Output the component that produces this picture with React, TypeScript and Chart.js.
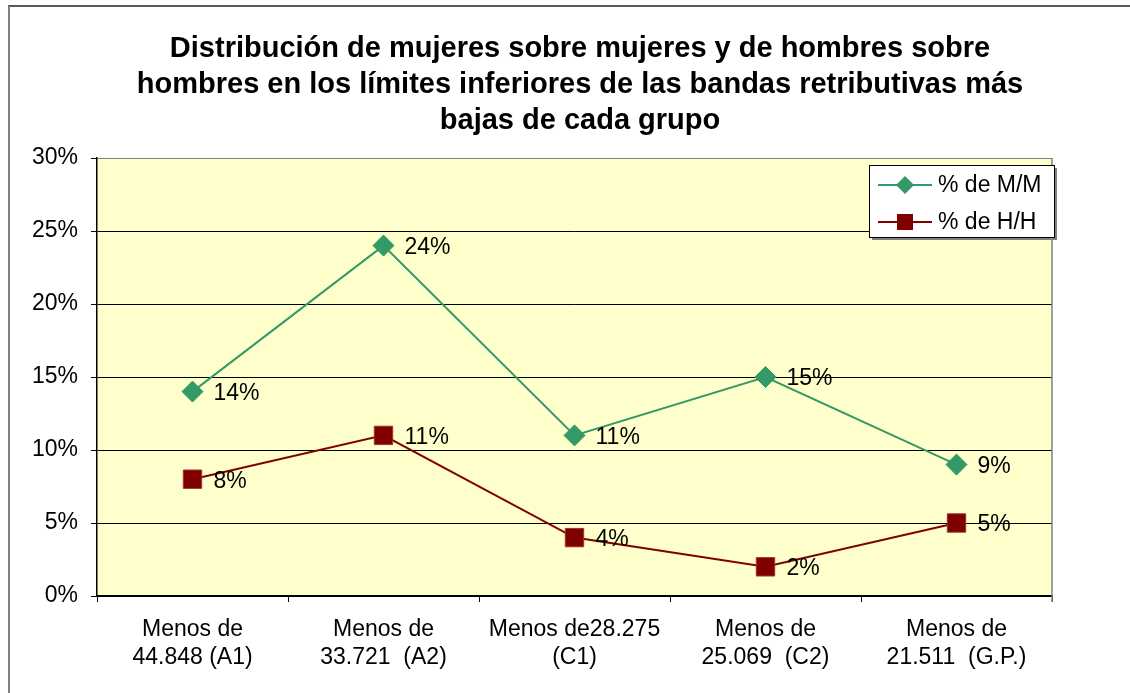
import React, { useEffect, useRef } from "react";
import { Chart, registerables } from "chart.js";

Chart.register(...registerables);

const categories: string[][] = [
  ["Menos de", "44.848 (A1)"],
  ["Menos de", "33.721  (A2)"],
  ["Menos de28.275", "(C1)"],
  ["Menos de", "25.069  (C2)"],
  ["Menos de", "21.511  (G.P.)"],
];
const mujeresPct: number[] = [14, 24, 11, 15, 9];
const hombresPct: number[] = [8, 11, 4, 2, 5];
const seriesNames: string[] = ["% de M/M", "% de H/H"];
const titleLines: string[] = [
  "Distribución de mujeres sobre mujeres y de hombres sobre",
  "hombres en los límites inferiores de las bandas retributivas más",
  "bajas de cada grupo",
];
const yTicks: number[] = [0, 5, 10, 15, 20, 25, 30];

const GREEN = "#339966";
const RED = "#800000";
const FONT = "'Liberation Sans', Arial, sans-serif";
const FS = 23;

const decorPlugin = {
  id: "decor",
  beforeDraw(chart: any) {
    const { ctx, chartArea: a } = chart;
    ctx.save();
    ctx.fillStyle = "#FFFFCC";
    ctx.fillRect(a.left, a.top, a.right - a.left, a.bottom - a.top);
    ctx.restore();
  },
  afterDraw(chart: any) {
    const { ctx, chartArea: a } = chart;
    ctx.save();
    // outer frame
    ctx.strokeStyle = "#222";
    ctx.lineWidth = 1.5;
    ctx.beginPath();
    ctx.moveTo(8, 6);
    ctx.lineTo(1130, 6);
    ctx.stroke();
    ctx.strokeStyle = "#808080";
    ctx.lineWidth = 2;
    ctx.beginPath();
    ctx.moveTo(9, 6);
    ctx.lineTo(9, 693);
    ctx.stroke();
    // plot right border
    ctx.strokeStyle = "#808080";
    ctx.lineWidth = 1.5;
    ctx.beginPath();
    ctx.moveTo(a.right, a.top);
    ctx.lineTo(a.right, a.bottom + 6);
    ctx.stroke();

    // title
    ctx.fillStyle = "#000";
    ctx.font = `bold 29px ${FONT}`;
    ctx.textAlign = "center";
    ctx.textBaseline = "alphabetic";
    const baselines = [57, 93, 129];
    titleLines.forEach((t, i) => ctx.fillText(t, 580, baselines[i]));

    // data labels
    ctx.font = `${FS}px ${FONT}`;
    ctx.textAlign = "left";
    ctx.textBaseline = "middle";
    chart.data.datasets.forEach((ds: any, di: number) => {
      const meta = chart.getDatasetMeta(di);
      meta.data.forEach((pt: any, i: number) => {
        ctx.fillText(ds.data[i] + "%", pt.x + 21, pt.y + 2);
      });
    });

    // legend
    const lx = 869, ly = 165, lw = 185, lh = 72;
    ctx.fillStyle = "#808080";
    ctx.fillRect(lx + 3, ly + 3, lw, lh);
    ctx.fillStyle = "#fff";
    ctx.fillRect(lx, ly, lw, lh);
    ctx.strokeStyle = "#000";
    ctx.lineWidth = 1;
    ctx.strokeRect(lx + 0.5, ly + 0.5, lw, lh);
    const rows = [185, 222];
    const colors = [GREEN, RED];
    rows.forEach((ry, i) => {
      ctx.strokeStyle = colors[i];
      ctx.lineWidth = 2;
      ctx.beginPath();
      ctx.moveTo(878, ry);
      ctx.lineTo(932, ry);
      ctx.stroke();
      ctx.fillStyle = colors[i];
      ctx.beginPath();
      if (i === 0) {
        const r = 9;
        ctx.moveTo(905, ry - r);
        ctx.lineTo(905 + r, ry);
        ctx.lineTo(905, ry + r);
        ctx.lineTo(905 - r, ry);
        ctx.closePath();
      } else {
        ctx.rect(905 - 8, ry - 8, 16, 16);
      }
      ctx.fill();
      ctx.fillStyle = "#000";
      ctx.font = `${FS}px ${FONT}`;
      ctx.textAlign = "left";
      ctx.textBaseline = "middle";
      ctx.fillText(seriesNames[i], 938, ry + 1);
    });
    ctx.restore();
  },
};

export default function App() {
  const ref = useRef<HTMLCanvasElement | null>(null);
  useEffect(() => {
    if (!ref.current) return;
    const chart = new Chart(ref.current, {
      type: "line",
      data: {
        labels: categories,
        datasets: [
          {
            label: seriesNames[0],
            data: mujeresPct,
            borderColor: GREEN,
            backgroundColor: GREEN,
            borderWidth: 2,
            pointStyle: "rectRot",
            pointRadius: 10.5,
            pointBorderColor: GREEN,
            pointBackgroundColor: GREEN,
            pointBorderWidth: 1,
            tension: 0,
          },
          {
            label: seriesNames[1],
            data: hombresPct,
            borderColor: RED,
            backgroundColor: RED,
            borderWidth: 2,
            pointStyle: "rect",
            pointRadius: 13,
            pointBorderColor: "#993333",
            pointBackgroundColor: RED,
            pointBorderWidth: 1,
            tension: 0,
          },
        ],
      },
      options: {
        responsive: false,
        animation: false,
        layout: { padding: { left: 0, top: 158, right: 78, bottom: 0 } },
        plugins: {
          legend: { display: false },
          title: { display: false },
          tooltip: { enabled: false },
        },
        scales: {
          x: {
            offset: true,
            grid: {
              offset: true,
              drawOnChartArea: false,
              drawTicks: true,
              tickLength: 6,
              tickColor: "#000",
              color: "#000",
            },
            border: { color: "#000", width: 1.5 },
            ticks: {
              color: "#000",
              font: { family: FONT, size: FS, lineHeight: 1.2 },
              padding: 14,
              maxRotation: 0,
              autoSkip: false,
            },
            afterFit(scale: any) {
              scale.height = 97;
            },
          },
          y: {
            min: 0,
            max: 30,
            afterBuildTicks(scale: any) {
              scale.ticks = yTicks.map((v) => ({ value: v }));
            },
            grid: {
              color: (c: any) => (c.tick && c.tick.value === 30 ? "#808080" : "#000"),
              lineWidth: 1,
              drawTicks: true,
              tickLength: 6,
              tickColor: "#000",
            },
            border: { color: "#000", width: 1.5 },
            ticks: {
              color: "#000",
              font: { family: FONT, size: FS },
              padding: 13,
              callback: (v: any) => v + "%",
            },
            afterFit(scale: any) {
              scale.width = 97;
            },
          },
        },
      },
      plugins: [decorPlugin],
    });
    return () => chart.destroy();
  }, []);
  return (
    <div style={{ position: "fixed", left: 0, top: 0, width: 1130, height: 693, background: "#fff" }}>
      <canvas ref={ref} width={1130} height={693} style={{ display: "block" }} />
    </div>
  );
}
